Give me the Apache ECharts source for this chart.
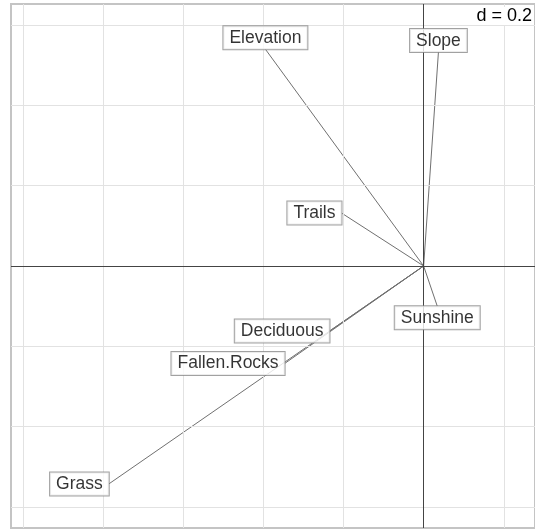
<!DOCTYPE html>
<html>
<head>
<meta charset="utf-8">
<script src="https://cdn.jsdelivr.net/npm/echarts@6/dist/echarts.min.js"></script>
<style>
  html, body { margin: 0; padding: 0; background: #fff; }
  #chart { width: 535px; height: 529px; }
</style>
</head>
<body>
<div id="chart"></div>
<script>
    // variable arrows (ade4 s.arrow style), coordinates
    var names = ['Elevation', 'Slope', 'Trails', 'Sunshine', 'Deciduous', 'Fallen.Rocks', 'Grass'];
    var arrowX = [-0.395, 0.037, -0.205, 0.034, -0.235, -0.347, -0.786];
    var arrowY = [0.540, 0.533, 0.132, -0.100, -0.162, -0.243, -0.543];
    var labelSide = ['top', 'top', 'left', 'bottom', 'left', 'left', 'left'];

    var gridX = [-1.0, -0.8, -0.6, -0.4, -0.2, 0.2];
    var gridY = [-0.6, -0.4, -0.2, 0.2, 0.4, 0.6];
    var xRange = [-1.03, 0.278];
    var yRange = [-0.6526, 0.6526];

    function each(arr, fn) {
        for (var i = 0; i < arr.length; i++) fn(i, arr[i]);
    }

    var lineData = [];
    var tipData = [];
    each(names, function (i, n) {
        lineData.push({ coords: [[0, 0], [arrowX[i], arrowY[i]]] });
        tipData.push({
            value: [arrowX[i], arrowY[i]],
            name: n,
            label: { position: labelSide[i] }
        });
    });

    var gridMarks = [];
    each(gridX, function (i, v) { gridMarks.push({ xAxis: v }); });
    each(gridY, function (i, v) { gridMarks.push({ yAxis: v }); });

    var option = {
        animation: false,
        textStyle: { fontFamily: 'Liberation Sans' },
        grid: {
            left: 11, top: 4, width: 525, height: 524,
            show: true, borderColor: '#c4c4c4', borderWidth: 2, backgroundColor: '#fff'
        },
        xAxis: {
            type: 'value', min: xRange[0], max: xRange[1],
            axisLine: { show: false }, axisTick: { show: false },
            axisLabel: { show: false }, splitLine: { show: false }
        },
        yAxis: {
            type: 'value', min: yRange[0], max: yRange[1],
            axisLine: { show: false }, axisTick: { show: false },
            axisLabel: { show: false }, splitLine: { show: false }
        },
        graphic: [{
            type: 'text', right: 3, top: 7, z: 100,
            style: {
                text: 'd = 0.2', fill: '#000', fontSize: 18,
                fontFamily: 'Liberation Sans', backgroundColor: '#fff'
            }
        }],
        series: [
            {
                type: 'scatter', data: [], silent: true,
                markLine: {
                    silent: true, symbol: 'none', label: { show: false },
                    lineStyle: { color: '#e2e2e2', width: 1, type: 'solid' },
                    data: gridMarks
                }
            },
            {
                type: 'scatter', data: [], silent: true,
                markLine: {
                    silent: true, symbol: 'none', label: { show: false },
                    lineStyle: { color: '#444', width: 1, type: 'solid' },
                    data: [{ xAxis: 0 }, { yAxis: 0 }]
                }
            },
            {
                type: 'lines', coordinateSystem: 'cartesian2d', silent: true,
                symbol: ['none', 'none'],
                lineStyle: { color: '#707070', width: 1, opacity: 1 },
                data: lineData
            },
            {
                type: 'scatter', symbolSize: 0, silent: true, z: 10,
                data: tipData,
                label: {
                    show: true, formatter: '{b}', distance: 0,
                    color: '#000', fontSize: 17.5, fontFamily: 'Liberation Sans',
                    backgroundColor: '#fff', borderColor: '#8a8a8a', borderWidth: 1,
                    padding: [2, 6, 1, 6], lineHeight: 20
                }
            }
        ]
    };
    var chart = echarts.init(document.getElementById('chart'));
    chart.setOption(option);
</script>
</body>
</html>
